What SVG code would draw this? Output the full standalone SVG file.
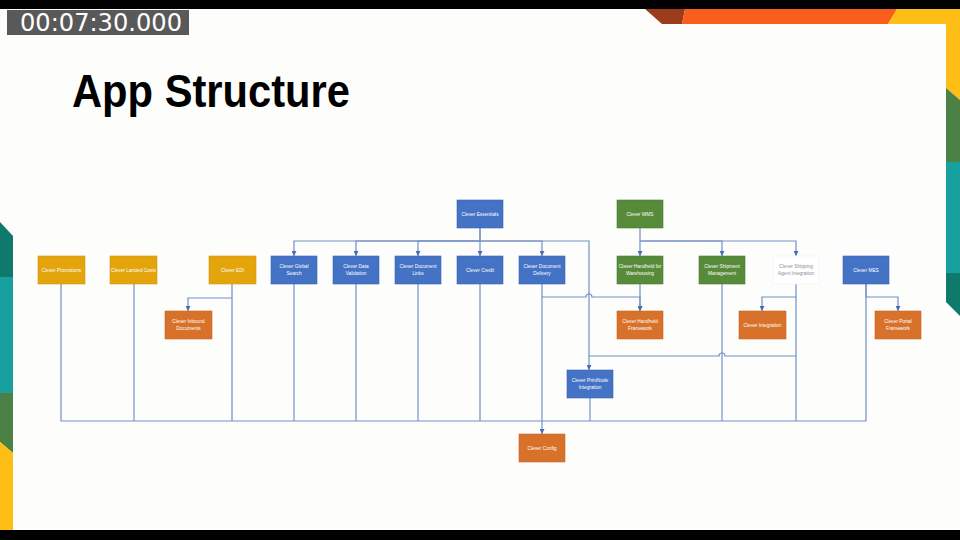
<svg xmlns="http://www.w3.org/2000/svg" width="960" height="540" viewBox="0 0 960 540">
<style>
.bx{stroke-width:0.6}
.blue{fill:#4472C4;stroke:#3C66B2}
.gold{fill:#E3A40C;stroke:#D39A10}
.orange{fill:#D8712A;stroke:#C96826}
.green{fill:#578A39;stroke:#4E7D33}
.white{fill:#FFFFFF;stroke:#EEF0F3}
.lbl{font-family:"Liberation Sans","Open Sans",sans-serif;font-size:4.8px;fill:#FFFFFF;text-anchor:middle}
.lbl.dim{fill:#8A8F99}
.ln{fill:none;stroke:#7390C8;stroke-width:1.2}
</style>
<defs>
<marker id="arr" viewBox="0 0 6 6" refX="6" refY="3" markerWidth="5" markerHeight="5" markerUnits="userSpaceOnUse" orient="auto">
<path d="M0,0 L6,3 L0,6z" fill="#4A6CB3"/>
</marker>
</defs>

<!-- background and frame -->
<rect x="0" y="0" width="960" height="540" fill="#FDFDFB"/>
<rect x="0" y="0" width="960" height="9" fill="#000000"/>
<rect x="0" y="530" width="960" height="10" fill="#000000"/>
<!-- top decoration -->
<polygon points="645,9 685,9 682,24 662,24" fill="#9A3B1C"/>
<polygon points="685,9 897,9 888,24 682,24" fill="#F95E1A"/>
<polygon points="897,9 960,9 960,24 888,24" fill="#FFBE16"/>
<!-- right decoration -->
<polygon points="946,24 960,24 960,100 946,88" fill="#FFBE16"/>
<polygon points="946,88 960,100 960,162 946,162" fill="#4B8144"/>
<rect x="946" y="162" width="14" height="111" fill="#17A19E"/>
<polygon points="946,273 960,273 960,316 946,302" fill="#0F7A6C"/>
<!-- left decoration -->
<polygon points="0,222 13,236 13,277 0,277" fill="#0F7A6C"/>
<rect x="0" y="277" width="13" height="116" fill="#17A19E"/>
<polygon points="0,393 13,393 13,453 0,442" fill="#4B8144"/>
<polygon points="0,442 13,453 13,530 0,530" fill="#FFBE16"/>

<!-- timestamp -->
<rect x="7" y="10" width="182" height="25" fill="#595959"/>
<text x="20" y="31" font-family="DejaVu Sans, sans-serif" font-size="24" fill="#FFFFFF" textLength="162" lengthAdjust="spacingAndGlyphs">00:07:30.000</text>

<!-- title -->
<text x="72" y="107" font-family="Liberation Sans, Arial, sans-serif" font-weight="bold" font-size="47" fill="#000000" textLength="278" lengthAdjust="spacingAndGlyphs">App Structure</text>

<!-- connectors -->
<g id="connectors">
<!-- Essentials children -->
<path class="ln" d="M480,228 V241 H294 V256" marker-end="url(#arr)"/>
<path class="ln" d="M480,241 H356 V256" marker-end="url(#arr)"/>
<path class="ln" d="M480,241 H418 V256" marker-end="url(#arr)"/>
<path class="ln" d="M480,228 V256" marker-end="url(#arr)"/>
<path class="ln" d="M480,241 H542 V256" marker-end="url(#arr)"/>
<path class="ln" d="M480,241 H589 V370" marker-end="url(#arr)"/>
<!-- WMS children -->
<path class="ln" d="M640,228 V256" marker-end="url(#arr)"/>
<path class="ln" d="M640,241 H722 V256" marker-end="url(#arr)"/>
<path class="ln" d="M640,241 H796 V256" marker-end="url(#arr)"/>
<!-- EDI -> Inbound -->
<path class="ln" d="M232,284 V298 H188 V311" marker-end="url(#arr)"/>
<!-- Delivery & Handheld WH -> Handheld Framework -->
<path class="ln" d="M542,284 V297 H586 A3,3 0 0 1 592,297 H640 V311" marker-end="url(#arr)"/>
<path class="ln" d="M640,284 V311" marker-end="url(#arr)"/>
<!-- Shipping Agent -> Integration -->
<path class="ln" d="M796,284 V297 H762 V311" marker-end="url(#arr)"/>
<!-- Shipping Agent -> PrintNode -->
<path class="ln" d="M796,297 V356 H725 A3,3 0 0 0 719,356 H589"/>
<!-- MES -> Portal -->
<path class="ln" d="M866,284 V297 H898 V311" marker-end="url(#arr)"/>
<!-- all -> Config -->
<path class="ln" d="M61,284 V421 H866 V284"/>
<path class="ln" d="M134,284 V421"/>
<path class="ln" d="M232,298 V421"/>
<path class="ln" d="M294,284 V421"/>
<path class="ln" d="M356,284 V421"/>
<path class="ln" d="M418,284 V421"/>
<path class="ln" d="M480,284 V421"/>
<path class="ln" d="M590,398 V421"/>
<path class="ln" d="M722,284 V421"/>
<path class="ln" d="M796,356 V421"/>
<path class="ln" d="M542,297 V434" marker-end="url(#arr)"/>
</g>

<!-- nodes -->
<g id="essentials"><rect class="bx blue" x="457" y="200" width="46" height="28"/><text class="lbl" x="480" y="215.7">Clever Essentials</text></g>
<g id="wms"><rect class="bx green" x="617" y="200" width="46" height="28"/><text class="lbl" x="640" y="215.7">Clever WMS</text></g>

<g id="promotions"><rect class="bx gold" x="38" y="256" width="47" height="28"/><text class="lbl" x="61.5" y="271.7">Clever Promotions</text></g>
<g id="landed-costs"><rect class="bx gold" x="110" y="256" width="47" height="28"/><text class="lbl" x="133.5" y="271.7">Clever Landed Costs</text></g>
<g id="edi"><rect class="bx gold" x="209" y="256" width="47" height="28"/><text class="lbl" x="232.5" y="271.7">Clever EDI</text></g>
<g id="global-search"><rect class="bx blue" x="271" y="256" width="46" height="28"/><text class="lbl" x="294" y="267.7">Clever Global</text><text class="lbl" x="294" y="274.7">Search</text></g>
<g id="data-validation"><rect class="bx blue" x="333" y="256" width="46" height="28"/><text class="lbl" x="356" y="267.7">Clever Data</text><text class="lbl" x="356" y="274.7">Validation</text></g>
<g id="document-links"><rect class="bx blue" x="395" y="256" width="46" height="28"/><text class="lbl" x="418" y="267.7">Clever Document</text><text class="lbl" x="418" y="274.7">Links</text></g>
<g id="credit"><rect class="bx blue" x="457" y="256" width="46" height="28"/><text class="lbl" x="480" y="271.7">Clever Credit</text></g>
<g id="document-delivery"><rect class="bx blue" x="519" y="256" width="46" height="28"/><text class="lbl" x="542" y="267.7">Clever Document</text><text class="lbl" x="542" y="274.7">Delivery</text></g>
<g id="handheld-warehousing"><rect class="bx green" x="617" y="256" width="46" height="28"/><text class="lbl" x="640" y="267.7">Clever Handheld for</text><text class="lbl" x="640" y="274.7">Warehousing</text></g>
<g id="shipment-management"><rect class="bx green" x="699" y="256" width="46" height="28"/><text class="lbl" x="722" y="267.7">Clever Shipment</text><text class="lbl" x="722" y="274.7">Management</text></g>
<g id="shipping-agent"><rect class="bx white" x="773" y="256" width="46" height="28"/><text class="lbl dim" x="796" y="267.7">Clever Shipping</text><text class="lbl dim" x="796" y="274.7">Agent Integration</text></g>
<g id="mes"><rect class="bx blue" x="843" y="256" width="46" height="28"/><text class="lbl" x="866" y="271.7">Clever MES</text></g>

<g id="inbound-documents"><rect class="bx orange" x="165" y="311" width="47" height="28"/><text class="lbl" x="188.5" y="322.7">Clever Inbound</text><text class="lbl" x="188.5" y="329.7">Documents</text></g>
<g id="handheld-framework"><rect class="bx orange" x="617" y="311" width="46" height="28"/><text class="lbl" x="640" y="322.7">Clever Handheld</text><text class="lbl" x="640" y="329.7">Framework</text></g>
<g id="integration"><rect class="bx orange" x="739" y="311" width="47" height="28"/><text class="lbl" x="762.5" y="326.7">Clever Integration</text></g>
<g id="portal-framework"><rect class="bx orange" x="875" y="311" width="46" height="28"/><text class="lbl" x="898" y="322.7">Clever Portal</text><text class="lbl" x="898" y="329.7">Framework</text></g>

<g id="printnode"><rect class="bx blue" x="567" y="370" width="46" height="28"/><text class="lbl" x="590" y="381.7">Clever PrintNode</text><text class="lbl" x="590" y="388.7">Integration</text></g>
<g id="config"><rect class="bx orange" x="519" y="434" width="46" height="28"/><text class="lbl" x="542" y="449.7">Clever Config</text></g>
</svg>
